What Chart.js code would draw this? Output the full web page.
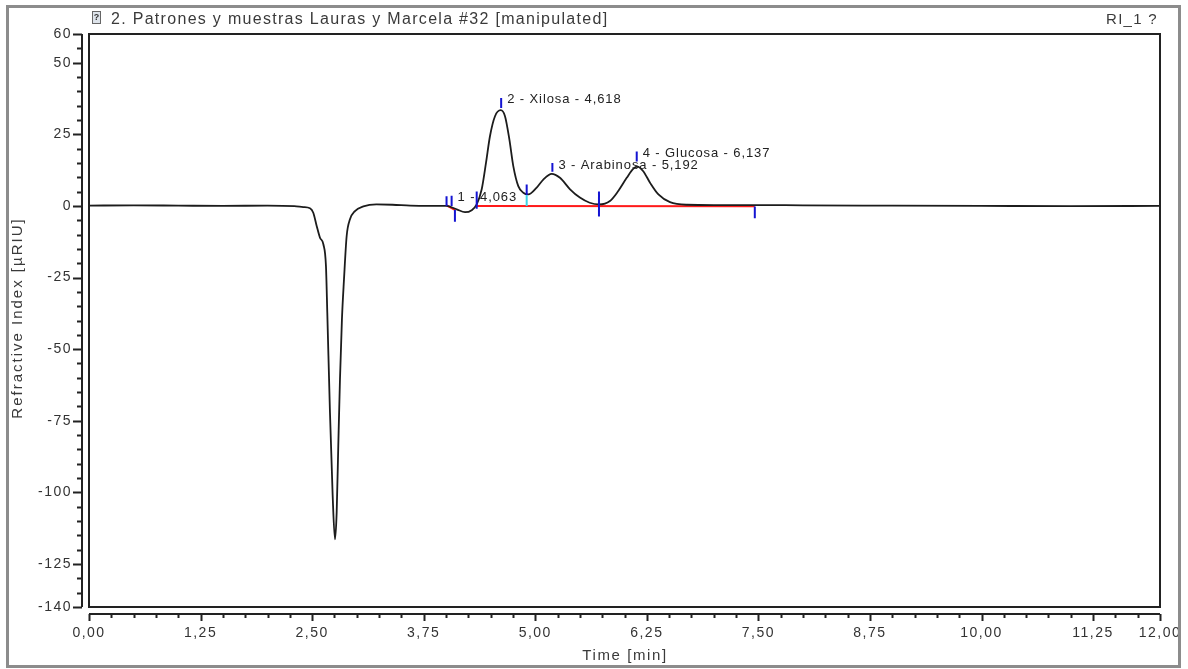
<!DOCTYPE html>
<html>
<head>
<meta charset="utf-8">
<script src="https://cdn.jsdelivr.net/npm/chart.js@4.4.1/dist/chart.umd.min.js"></script>
<style>
  html, body { margin: 0; padding: 0; background: #fff; }
</style>
</head>
<body>
<canvas id="chart1" width="1188" height="669"></canvas>
<script>
// chromatogram trace (time in min, signal in µRIU)
const timeMin = [0.00, 0.50, 1.00, 1.50, 2.00, 2.30, 2.40, 2.476, 2.513, 2.551, 2.588, 2.626, 2.655, 2.670, 2.700, 2.730, 2.756,
  2.775, 2.793, 2.812, 2.834, 2.857, 2.887, 2.924, 2.980, 3.074, 3.220, 3.400, 3.600, 3.800, 4.006, 4.120, 4.213, 4.288,
  4.344, 4.400, 4.448, 4.493, 4.549, 4.613, 4.661, 4.710, 4.754, 4.810, 4.866, 4.922, 5.016, 5.090, 5.184, 5.277, 5.390,
  5.500, 5.610, 5.714, 5.837, 5.930, 6.025, 6.100, 6.143, 6.210, 6.286, 6.380, 6.510, 6.700, 7.000, 7.500, 8.000, 9.000,
  10.00, 11.00, 12.00];
const riuValues = [0.1, 0.2, 0.1, 0.0, 0.1, -0.1, -0.4, -0.8, -2.4, -7.0, -11.1, -13.4, -21.0, -37.3, -72.2, -101.0, -116.4,
  -107.0, -83.8, -60.6, -39.6, -25.7, -10.5, -4.7, -1.8, -0.2, 0.5, 0.4, 0.1, 0.0, 0.0, -1.2, -2.2, -1.5,
  0.5, 5.8, 15.0, 24.4, 31.3, 33.4, 31.3, 23.2, 13.9, 6.9, 4.6, 4.0, 6.4, 9.2, 11.2, 9.8, 5.8,
  2.9, 1.1, 0.5, 1.7, 5.2, 9.8, 13.0, 13.7, 12.1, 8.1, 4.0, 1.3, 0.4, 0.3, 0.3, 0.2, 0.1,
  0.0, -0.1, 0.0];

// tick labels
const xTicks = [0, 1.25, 2.5, 3.75, 5, 6.25, 7.5, 8.75, 10, 11.25, 12];
const yTicks = [-140, -125, -100, -75, -50, -25, 0, 25, 50, 60];

// identified peaks
const peakNames = ['1 - 4,063', '2 - Xilosa - 4,618', '3 - Arabinosa - 5,192', '4 - Glucosa - 6,137'];
const peakTimes = [4.063, 4.618, 5.192, 6.137];
const peakMarkTop = [3.5, 37.7, 15.0, 19.0];
const peakMarkBottom = [0.0, 34.2, 11.9, 15.5];

// peak boundary marks
const boundTimes = [4.006, 4.100, 4.344, 4.904, 5.714, 7.460];
const boundTop = [3.4, -1.4, 5.0, 7.5, 5.0, -0.2];
const boundBottom = [0.0, -5.5, -1.0, 3.8, -3.7, -4.3];

// drop line between peak 2 and 3
const dropTimes = [4.904];
const dropTop = [3.8];
const dropBottom = [0.0];

// integration baseline segments
const baseStartT = [4.006, 4.344];
const baseStartV = [0.2, 0.0];
const baseEndT = [4.100, 7.460];
const baseEndV = [-1.4, -0.1];

const FONT = 'Liberation Sans, Arial, sans-serif';

function ticksFrom(times, tops, bottoms) {
  const out = [];
  times.forEach((t, i) => {
    out.push({x: t, y: tops[i]}, {x: t, y: bottoms[i]}, {x: t, y: null});
  });
  return out;
}

const traceData = timeMin.map((t, i) => ({x: t, y: riuValues[i]}));
const baseData = [];
baseStartT.forEach((t, i) => {
  baseData.push({x: t, y: baseStartV[i]}, {x: baseEndT[i], y: baseEndV[i]}, {x: baseEndT[i], y: null});
});

// frame, plot box, offset axes with minor ticks, texts
const chromPlugin = {
  id: 'chrom',
  beforeLayout(chart) { chart.ctx.letterSpacing = '1.5px'; },
  beforeDraw(chart) {
    const ctx = chart.ctx;
    ctx.save();
    ctx.fillStyle = '#fff';
    ctx.fillRect(0, 0, chart.width, chart.height);
    ctx.restore();
    ctx.letterSpacing = '1.5px';
  },
  afterDraw(chart) {
    const ctx = chart.ctx;
    const a = chart.chartArea;
    const xs = chart.scales.x, ys = chart.scales.y;
    ctx.save();
    // outer frame
    ctx.strokeStyle = '#8c8c8c';
    ctx.lineWidth = 3;
    ctx.strokeRect(7.5, 6.5, 1172, 660);
    // plot box
    ctx.strokeStyle = '#222';
    ctx.lineWidth = 2;
    ctx.strokeRect(a.left, a.top, a.right - a.left, a.bottom - a.top);

    // y axis
    const ax = a.left - 7;
    ctx.beginPath();
    ctx.moveTo(ax, ys.getPixelForValue(60));
    ctx.lineTo(ax, ys.getPixelForValue(-140));
    for (let v = -140; v <= 60; v += 5) {
      const py = Math.round(ys.getPixelForValue(v)) + 0.5;
      const len = yTicks.includes(v) ? 9 : 5;
      ctx.moveTo(ax, py);
      ctx.lineTo(ax - len, py);
    }
    ctx.stroke();
    // x axis
    const ay = a.bottom + 7;
    ctx.beginPath();
    ctx.moveTo(xs.getPixelForValue(0), ay);
    ctx.lineTo(xs.getPixelForValue(12), ay);
    for (let k = 0; k <= 48; k++) {
      const v = k * 0.25;
      const px = Math.round(xs.getPixelForValue(v)) + 0.5;
      const len = xTicks.includes(v) ? 7 : 4;
      ctx.moveTo(px, ay);
      ctx.lineTo(px, ay + len);
    }
    ctx.stroke();

    // peak labels
    ctx.fillStyle = '#222';
    ctx.font = '13px ' + FONT;
    ctx.letterSpacing = '0.9px';
    ctx.textAlign = 'left';
    ctx.textBaseline = 'middle';
    peakNames.forEach((name, i) => {
      const px = xs.getPixelForValue(peakTimes[i]);
      const py = ys.getPixelForValue(peakMarkTop[i]);
      ctx.fillText(name, px + 6, py + 2);
    });

    // header
    ctx.fillStyle = '#3a3a3a';
    ctx.font = '16px ' + FONT;
    ctx.letterSpacing = '1.3px';
    ctx.fillText('2. Patrones y muestras Lauras y Marcela #32 [manipulated]', 111, 20);
    ctx.textAlign = 'right';
    ctx.font = '15px ' + FONT;
    ctx.fillText('RI_1 ?', 1158, 20);
    // small icon
    ctx.strokeStyle = '#666';
    ctx.lineWidth = 1;
    ctx.fillStyle = '#dde3ea';
    ctx.fillRect(92.5, 11.5, 8, 12);
    ctx.strokeRect(92.5, 11.5, 8, 12);
    ctx.fillStyle = '#333';
    ctx.font = 'bold 9px ' + FONT;
    ctx.letterSpacing = '0px';
    ctx.textAlign = 'center';
    ctx.fillText('?', 96.5, 18);

    // axis titles
    ctx.fillStyle = '#3a3a3a';
    ctx.font = '15px ' + FONT;
    ctx.letterSpacing = '1.6px';
    ctx.textAlign = 'center';
    ctx.fillText('Time [min]', 625, 656);
    ctx.translate(18, 318);
    ctx.rotate(-Math.PI / 2);
    ctx.letterSpacing = '2px';
    ctx.fillText('Refractive Index [µRIU]', 0, 0);
    ctx.restore();
    ctx.letterSpacing = '1.5px';
  }
};

new Chart(document.getElementById('chart1'), {
  type: 'scatter',
  data: {
    datasets: [
      {
        label: 'peaks',
        data: ticksFrom(peakTimes, peakMarkTop, peakMarkBottom).concat(ticksFrom(boundTimes, boundTop, boundBottom)),
        showLine: true,
        spanGaps: false,
        borderColor: '#1414d2',
        borderWidth: 2,
        pointRadius: 0,
        order: 0
      },
      {
        label: 'drop',
        data: ticksFrom(dropTimes, dropTop, dropBottom),
        showLine: true,
        spanGaps: false,
        borderColor: '#3cd6e6',
        borderWidth: 2,
        pointRadius: 0,
        order: 0
      },
      {
        label: 'RI_1',
        data: traceData,
        showLine: true,
        borderColor: '#1c1c1c',
        borderWidth: 1.8,
        pointRadius: 0,
        cubicInterpolationMode: 'monotone',
        order: 1
      },
      {
        label: 'baseline',
        data: baseData,
        showLine: true,
        spanGaps: false,
        borderColor: '#ff1a1a',
        borderWidth: 2,
        pointRadius: 0,
        order: 2
      }
    ]
  },
  options: {
    responsive: false,
    animation: false,
    devicePixelRatio: 1,
    layout: { padding: { left: 0, right: 28, top: 34, bottom: 0 } },
    plugins: {
      legend: { display: false },
      tooltip: { enabled: false }
    },
    scales: {
      x: {
        type: 'linear',
        min: 0,
        max: 12,
        afterBuildTicks: s => { s.ticks = xTicks.map(v => ({value: v})); },
        afterFit: s => { s.height = 62; s.paddingLeft = 0; s.paddingRight = 0; },
        grid: { display: false, drawTicks: false },
        border: { display: false },
        ticks: {
          autoSkip: false,
          maxRotation: 0,
          padding: 18,
          color: '#333',
          font: { family: FONT, size: 14 },
          callback: v => v.toFixed(2).replace('.', ',')
        }
      },
      y: {
        type: 'linear',
        min: -140,
        max: 60,
        afterBuildTicks: s => { s.ticks = yTicks.map(v => ({value: v})); },
        afterFit: s => { s.width = 89; s.paddingTop = 0; s.paddingBottom = 0; },
        grid: { display: false, drawTicks: false },
        border: { display: false },
        ticks: {
          autoSkip: false,
          padding: 17,
          color: '#333',
          font: { family: FONT, size: 14 },
          callback: v => String(v)
        }
      }
    }
  },
  plugins: [chromPlugin]
});
</script>
</body>
</html>
